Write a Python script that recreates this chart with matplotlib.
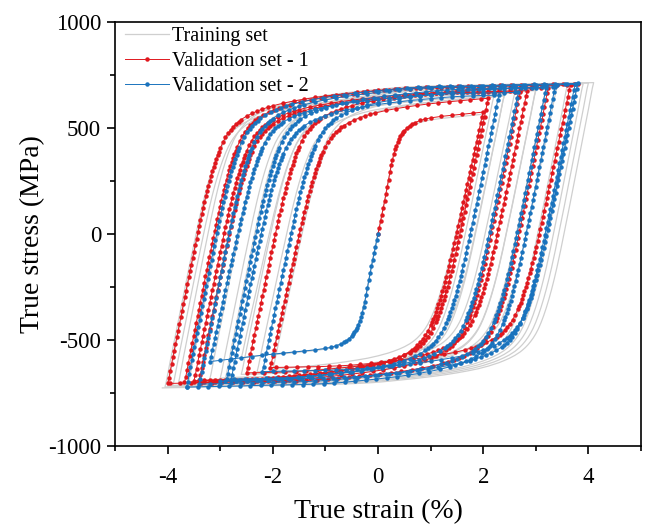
import numpy as np
import matplotlib
matplotlib.use('Agg')
import matplotlib.pyplot as plt
from matplotlib.ticker import MultipleLocator

plt.rcParams['font.family'] = ['Liberation Serif', 'DejaVu Serif']
plt.rcParams['axes.unicode_minus'] = False

# shape of a branch after a reversal, read off the outer grey loop
# (strain increment in %, stress increment in MPa)
branch_de = np.array([0, .025, .05, .075, .1, .125, .15, .175, .2, .225, .25, .275, .3, .325,
                      .35, .375, .4, .425, .45, .475, .5, .525, .55, .575, .6, .625, .65, .675,
                      .7, .725, .75, .775, .8, .825, .85, .875, .9, .925, .95, .975, 1.0, 1.05,
                      1.1, 1.15, 1.2, 1.25, 1.3, 1.35, 1.4, 1.5, 1.6, 1.7, 1.8, 1.9, 2.0, 2.2,
                      2.4, 2.6, 2.8, 3.0, 3.2, 3.4, 3.6, 3.8, 4.0, 4.2, 4.4, 4.6, 4.8, 5.0,
                      5.2, 5.4, 5.6, 5.8, 6.0, 6.2, 6.4, 6.6, 6.8, 7.0, 7.2, 7.4, 7.6, 7.8,
                      8.0, 8.2, 8.4])
branch_ds = np.array([0, 26, 60, 93, 126, 158, 190, 222, 254, 286, 318, 350, 382, 414,
                      446, 478, 510, 541, 572, 603, 634, 665, 696, 727, 757, 787, 816, 845,
                      873, 900, 926, 951, 975, 998, 1020, 1041, 1061, 1080, 1098, 1115, 1131, 1160,
                      1184, 1204, 1221, 1236, 1249, 1260, 1270, 1286, 1299, 1310, 1320, 1328, 1336, 1349,
                      1359, 1368, 1376, 1383, 1389, 1395, 1400, 1405, 1410, 1414, 1417, 1419, 1421, 1422,
                      1423, 1424, 1425, 1426, 1428, 1429, 1430, 1431, 1432, 1433, 1434, 1435, 1436, 1437,
                      1438, 1439, 1440])

# first loading from the origin (centre S-curve)
mono_de = np.array([0, .025, .05, .075, .1, .125, .15, .175, .2, .225, .25, .275, .3, .325,
                    .35, .375, .4, .425, .45, .475, .5, .55, .6, .65, .7, .8, .9, 1.0, 1.2,
                    1.4, 1.6, 1.8, 2.0, 2.2, 2.4, 2.6, 2.8, 3.0, 3.2, 3.4])
mono_ds = np.array([0, 30, 60, 90, 120, 152, 185, 218, 252, 285, 318, 345, 370, 392,
                    410, 426, 440, 452, 462, 471, 479, 492, 502, 510, 516, 526, 533, 538, 545,
                    550, 555, 560, 565, 570, 576, 582, 588, 594, 600, 606])

# reversal points (strain %, stress MPa)
train_a_strain = [0, 2.0, -2.0, 2.4, -2.6, 3.0, -3.2, 3.6, -3.8, 4.1, -4.1]
train_a_stress = [0, 565, -638, 652, -662, 676, -686, 700, -708, 714, -726]
train_b_strain = [0, -2.6, 2.4, -3.4, 3.9, -4.0, 3.2, -2.9, 3.8, -3.9, 2.8]
train_b_stress = [0, -584, 652, -690, 708, -718, 690, -678, 706, -714, 672]
train_c_strain = [0, -2.0, 3.0, -3.0, 3.4, -2.3, 2.2, -3.6, 4.0, -4.05, 2.6, -2.5]
train_c_stress = [0, -570, 680, -680, 690, -650, 646, -698, 712, -722, 664, -660]

val1_strain = [0, 2.0, -3.5, 2.84, -2.5, 3.24, -4.0, 3.66, -2.05, 2.1, -3.4, 2.7, -3.68, 3.8]
val1_stress = [0, 575, -692, 676, -655, 690, -705, 703, -630, 640, -690, 670, -700, 708]
val2_strain = [0, -3.2, 2.67, -2.88, 3.37, -3.64, 3.8, -2.2, 3.2, -3.4, 3.75, -2.8, 2.3, -3.0]
val2_stress = [0, -602, 668, -685, 694, -722, 710, -650, 690, -708, 706, -690, 655, -695]


def history(strains, stresses):
    xs, ys = [strains[0]], [stresses[0]]
    for i in range(1, len(strains)):
        e0, s0 = strains[i-1], stresses[i-1]
        e1, s1 = strains[i], stresses[i]
        de, ds = (mono_de, mono_ds) if i == 1 else (branch_de, branch_ds)
        d = abs(e1 - e0)
        sg = np.sign(e1 - e0)
        k = abs(s1 - s0) / np.interp(d, de, ds)
        m = (de > 0) & (de < d)
        xs.extend(e0 + sg*de[m])
        ys.extend(s0 + sg*k*ds[m])
        xs.append(e1)
        ys.append(s1)
    return np.array(xs), np.array(ys)


fig = plt.figure(figsize=(6.45, 5.27), dpi=100)
ax = fig.add_axes([0.1783, 0.1537, 0.8155, 0.8046])

grey = '#cfcfcf'
red = '#e0181e'
blue = '#1a73bd'

first = True
for st, ss in [(train_a_strain, train_a_stress), (train_b_strain, train_b_stress),
               (train_c_strain, train_c_stress)]:
    x, y = history(st, ss)
    ax.plot(x, y, color=grey, lw=0.9, label='Training set' if first else None)
    first = False

x, y = history(val1_strain, val1_stress)
ax.plot(x, y, color=red, lw=0.7, marker='o', ms=2.2, label='Validation set - 1')
x, y = history(val2_strain, val2_stress)
ax.plot(x, y, color=blue, lw=0.7, marker='o', ms=2.2, label='Validation set - 2')

ax.set_xlim(-5, 5)
ax.set_ylim(-1000, 1000)
ax.xaxis.set_major_locator(MultipleLocator(2))
ax.xaxis.set_minor_locator(MultipleLocator(1))
ax.yaxis.set_major_locator(MultipleLocator(500))
ax.yaxis.set_minor_locator(MultipleLocator(250))
ax.tick_params(which='both', direction='out', width=1.2, labelsize=16.5, top=False, right=False)
ax.tick_params(which='major', length=6)
ax.tick_params(axis='x', which='major', pad=9)
ax.tick_params(axis='y', which='major', pad=4)
ax.tick_params(which='minor', length=3.5)
for sp in ax.spines.values():
    sp.set_linewidth(1.2)

ax.set_xlabel('True strain (%)', fontsize=20, labelpad=8)
ax.set_ylabel('True stress (MPa)', fontsize=20, labelpad=2)

ax.legend(loc='upper left', frameon=False, fontsize=14.5, handlelength=2.2,
          handletextpad=0.15, labelspacing=0.3, borderaxespad=0.1,
          bbox_to_anchor=(0.0, 1.013))

fig.savefig('out.png', dpi=100)
